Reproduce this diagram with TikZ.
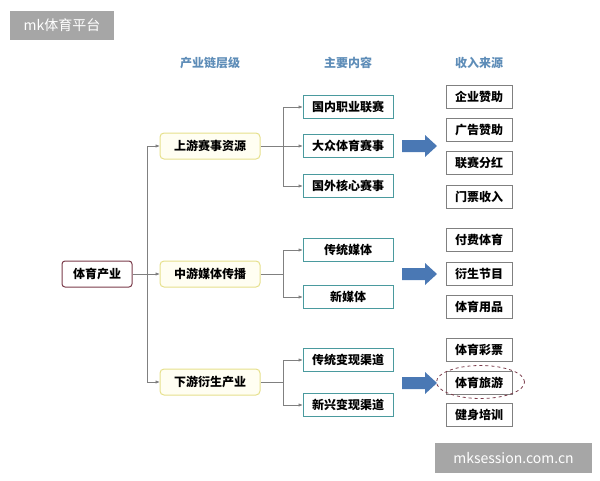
\documentclass[tikz,border=0pt]{standalone}
\usepackage{fontspec}
\setmainfont{Noto Sans CJK SC}
\newfontfamily\wmfont{Noto Sans CJK SC}
\usetikzlibrary{arrows.meta,shapes.geometric}
\definecolor{arrowblue}{HTML}{4A78B4}
\definecolor{hdrblue}{HTML}{5E8DB8}
\definecolor{tealb}{HTML}{4A9A9E}
\definecolor{yelb}{HTML}{E6E08C}
\definecolor{rootb}{HTML}{7A3B4A}
\begin{document}
\begin{tikzpicture}[x=1pt,y=-1pt,
  txt/.style={font=\bfseries\fontsize{12}{14}\selectfont},
  rootbox/.style={txt,draw=rootb,line width=1pt,rounded corners=3pt,minimum width=70pt,minimum height=26pt,inner sep=0pt},
  lvlbox/.style={txt,draw=yelb,fill=yellow!5,line width=1pt,rounded corners=4pt,minimum width=100pt,minimum height=26pt,inner sep=0pt},
  cbox/.style={txt,draw=tealb,line width=1pt,minimum width=90pt,minimum height=23pt,inner sep=0pt},
  rbox/.style={txt,draw=gray,line width=0.8pt,minimum width=66pt,minimum height=23pt,inner sep=0pt},
  hdr/.style={font=\bfseries\fontsize{12}{14}\selectfont,text=hdrblue},
  conn/.style={draw=gray,line width=0.6pt,-{Triangle[length=4pt,width=3pt]}},
  wm/.style={fill=gray!70,text=white,font=\wmfont\fontsize{14}{16}\selectfont,inner sep=0pt}]
\useasboundingbox (0,0) rectangle (600,480);
\node[wm,minimum width=104pt,minimum height=29pt] (wm1) at (62,25.5) {mk体育平台};
\node[wm,minimum width=157pt,minimum height=30pt] (wm2) at (513.5,458) {mksession.com.cn};
\node[hdr] (h1) at (210,63) {产业链层级};
\node[hdr] (h2) at (348,63) {主要内容};
\node[hdr] (h3) at (479,63) {收入来源};
\node[rootbox] (root) at (97,274) {体育产业};
\node[lvlbox] (l1) at (210,146) {上游赛事资源};
\node[lvlbox] (l2) at (210,274) {中游媒体传播};
\node[lvlbox] (l3) at (210,382) {下游衍生产业};
\node[cbox] (c1) at (348,107) {国内职业联赛};
\node[cbox] (c2) at (348,146) {大众体育赛事};
\node[cbox] (c3) at (348,186) {国外核心赛事};
\node[cbox] (c4) at (348,250) {传统媒体};
\node[cbox] (c5) at (348,297) {新媒体};
\node[cbox] (c6) at (348,360) {传统变现渠道};
\node[cbox] (c7) at (348,405) {新兴变现渠道};
\node[rbox] (r1) at (479,97) {企业赞助};
\node[rbox] (r2) at (479,130) {广告赞助};
\node[rbox] (r3) at (479,163) {联赛分红};
\node[rbox] (r4) at (479,197) {门票收入};
\node[rbox] (r5) at (479,240) {付费体育};
\node[rbox] (r6) at (479,274) {衍生节目};
\node[rbox] (r7) at (479,307) {体育用品};
\node[rbox] (r8) at (479,350) {体育彩票};
\node[rbox] (r9) at (479,383) {体育旅游};
\node[rbox] (r10) at (479,415) {健身培训};
\node[ellipse,draw=rootb,dashed,line width=0.8pt,minimum width=88pt,minimum height=33pt] (el) at (480.5,382) {};
\foreach \yy in {146,274,383}{
  \fill[arrowblue] (402,\yy-6) -- (425,\yy-6) -- (425,\yy-11) -- (437,\yy) -- (425,\yy+11) -- (425,\yy+6) -- (402,\yy+6) -- cycle;
}
\coordinate (v) at (147,274);
\draw[gray,line width=0.6pt] (root.east) -- (v);
\draw[conn] (v) |- (l1.west);
\draw[conn] (v) -- (l2.west);
\draw[conn] (v) |- (l3.west);
\coordinate (b1) at (283,146);
\coordinate (b2) at (283,274);
\coordinate (b3) at (283,382);
\draw[gray,line width=0.6pt] (l1.east) -- (b1);
\draw[gray,line width=0.6pt] (l2.east) -- (b2);
\draw[gray,line width=0.6pt] (l3.east) -- (b3);
\draw[conn] (b1) |- (c1.west);
\draw[conn] (b1) -- (c2.west);
\draw[conn] (b1) |- (c3.west);
\draw[conn] (b2) |- (c4.west);
\draw[conn] (b2) |- (c5.west);
\draw[conn] (b3) |- (c6.west);
\draw[conn] (b3) |- (c7.west);
\end{tikzpicture}
\end{document}
